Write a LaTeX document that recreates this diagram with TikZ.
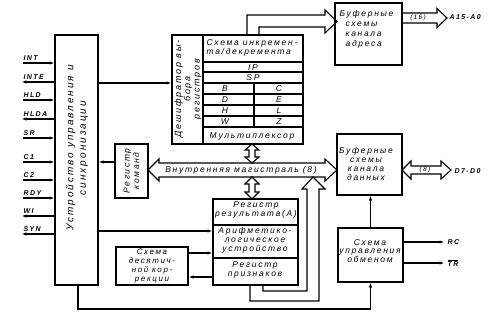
\documentclass[tikz,border=0pt]{standalone}
\usepackage{fontspec}
\setmainfont{Liberation Sans}[LetterSpace=20]
\usetikzlibrary{arrows.meta}
\begin{document}
\begin{tikzpicture}[x=1pt,y=-1pt, line width=1.2pt,
  box/.style={draw, inner sep=0, outer sep=0, anchor=north west},
  txt/.style={font=\itshape\fontsize{8.5}{9.3}\selectfont, inner sep=0, align=center},
  sig/.style={font=\bfseries\itshape\fontsize{7}{7.5}\selectfont, inner sep=0, anchor=south west},
  sml/.style={font=\itshape\fontsize{6.5}{7}\selectfont, inner sep=0},
  arr/.style={-{Latex[length=5.5pt,width=3.2pt]}},
  hol/.style={line width=1.1pt, line join=miter}]

\useasboundingbox (0,0) rectangle (488,324);

% control unit
\node[box, minimum width=43, minimum height=250] (ctrl) at (55,35) {};
\node[txt, rotate=90, font=\itshape\fontsize{10}{12.5}\selectfont] (ctrlT) at (77,148) {Устройство управления и\\синхронизации};

% input signals
\foreach \lab/\yy in {INT/63, HLD/100, SR/138, C1/162, C2/180, RDY/198} {
  \coordinate (s\lab) at (23,\yy);
  \node[sig] (l\lab) at (23,\yy-2) {\lab};
  \draw[arr] (s\lab) -- (s\lab -| ctrl.west);
}
% output signals
\foreach \lab/\yy in {INTE/82, HLDA/119, WI/216, SYN/234} {
  \coordinate (s\lab) at (21,\yy);
  \node[sig] (l\lab) at (23,\yy-2) {\lab};
  \draw[arr] (s\lab -| ctrl.west) -- (s\lab);
}

% decoder
\node[box, minimum width=31, minimum height=109] (dec) at (172,35) {};
\node[txt, rotate=90, font=\itshape\fontsize{9}{9.3}\selectfont] (decT) at (188,89) {Дешифратор вы-\\бора\\регистров};

% register block
\node[box, minimum width=100, minimum height=109] (reg) at (203,35) {};
\foreach \yy in {62,72,83,94,105,116,127} \draw (reg.west |- 0,\yy) -- (reg.east |- 0,\yy);
\draw (254,83) -- (254,127);
\node[txt, anchor=west, align=left] (incT) at (206,48) {Схема инкремен-\\та/декремента};
\node[txt] (rIP) at (253,67.5) {IP};
\node[txt] (rSP) at (253,78) {SP};
\node[txt] (rB) at (225,89) {B};
\node[txt] (rC) at (279,89) {C};
\node[txt] (rD) at (225,100) {D};
\node[txt] (rE) at (279,100) {E};
\node[txt] (rH) at (225,111) {H};
\node[txt] (rL) at (279,111) {L};
\node[txt] (rW) at (225,122) {W};
\node[txt] (rZ) at (279,122) {Z};
\node[txt] (mux) at (252,136) {Мультиплексор};

\draw[arr] (ctrl.east |- 0,83) -- (dec.west |- 0,83);

% address buffer
\node[box, minimum width=67, minimum height=62] (abuf) at (335,3) {};
\node[txt, anchor=west, align=left, font=\itshape\fontsize{8.5}{10}\selectfont] (abufT) at (339,29.5) {Буферные\\\hspace*{6pt}схемы\\\hspace*{6pt}канала\\\hspace*{6pt}адреса};
\draw[hol] (247,35) -- (247,15) -- (325,15) -- (325,10) -- (337,21.5) -- (325,33) -- (325,27) -- (259,27) -- (259,35);
\draw[hol] (402,13) -- (437,13) -- (437,8.5) -- (447,18) -- (437,27.5) -- (437,23) -- (402,23);
\node[sml] (n16) at (418,18) {(16)};
\node[sig, anchor=west] (lA) at (449,17) {A15-A0};

% command register
\node[box, minimum width=33, minimum height=54] (cmd) at (115,144) {};
\node[txt, rotate=90] (cmdT) at (131.5,171) {Регистр\\команд};
\draw[arr] (cmd.west |- 0,162) -- (ctrl.east |- 0,162);

% internal bus
\draw[hol] (148,170) -- (159,159) -- (159,163) -- (325,163) -- (325,159) -- (337,170) -- (325,181) -- (325,177) -- (159,177) -- (159,181) -- cycle;
\node[txt] (busT) at (241,170) {Внутренняя магистраль (8)};

% vertical double arrows
\draw[hol] (252,144) -- (259,150) -- (255,150) -- (255,157) -- (259,157) -- (252,163) -- (245,157) -- (249,157) -- (249,150) -- (245,150) -- cycle;
\draw[hol] (252,177) -- (259,184) -- (255,184) -- (255,192) -- (259,192) -- (252,199) -- (245,192) -- (249,192) -- (249,184) -- (245,184) -- cycle;

% data buffer
\node[box, minimum width=65, minimum height=61] (dbuf) at (337,134) {};
\node[txt] (dbufT) at (366,164) {Буферные\\схемы\\канала\\данных};
\draw[hol] (402,170) -- (411,161) -- (411,166) -- (441,166) -- (441,161) -- (451,170) -- (441,179) -- (441,174) -- (411,174) -- (411,179) -- cycle;
\node[sml] (n8) at (425,170) {(8)};
\node[sig, anchor=west] (lD) at (454,171) {D7-D0};

% ALU stack
\node[box, minimum width=85, minimum height=86] (alu) at (213,199) {};
\draw (alu.west |- 0,225) -- (alu.east |- 0,225);
\draw (alu.west |- 0,258) -- (alu.east |- 0,258);
\node[txt] (resT) at (256,210) {Регистр\\результата(А)};
\node[txt] (aluT) at (255,240.5) {Арифметико-\\логическое\\устройство};
\node[txt] (flgT) at (255,270) {Регистр\\признаков};

% ALU result to bus
\draw[hol] (263,285) -- (263,291) -- (307,291) -- (307,189) -- (302,189) -- (313,177) -- (325,189) -- (319,189) -- (319,301) -- (250,301) -- (250,285);

% decimal correction
\node[box, minimum width=72, minimum height=38] (dcor) at (116,247) {};
\node[txt, font=\itshape\fontsize{8}{9}\selectfont] (dcorT) at (152,266) {Схема\\десятич-\\ной кор-\\рекции};

\draw[arr] (ctrl.east |- 0,231) -- (alu.west |- 0,231);
\draw[arr] (dcor.east |- 0,253) -- (alu.west |- 0,253);
\draw[arr] (alu.west |- 0,277) -- (dcor.east |- 0,277);

% exchange control
\node[box, minimum width=65, minimum height=54] (exch) at (338,228) {};
\node[txt, font=\itshape\fontsize{8.5}{8.7}\selectfont] (exchT) at (370,251) {Схема\\управления\\обменом};
\draw[arr] (exch.north) -- (exch.north |- dbuf.south);
\coordinate (pRC) at (445,242);
\coordinate (pTR) at (445,263);
\draw[arr] (pRC -| exch.east) -- (pRC);
\draw[arr] (pTR -| exch.east) -- (pTR);
\node[sig, anchor=west] (lRC) at (447,242) {RC};
\node[sig, anchor=west] (lTR) at (447,263) {$\overline{\mbox{\bfseries\itshape TR}}$};

% bottom line
\draw[arr] ([xshift=1.5pt]ctrl.south) -- ++(0,24) -| (exch.south);
\end{tikzpicture}
\end{document}
